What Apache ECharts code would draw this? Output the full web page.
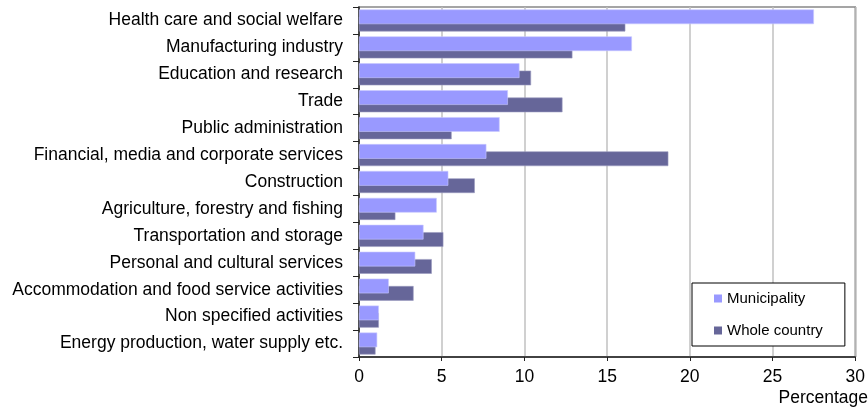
<!DOCTYPE html>
<html>
<head>
<meta charset="utf-8">
<script src="https://cdn.jsdelivr.net/npm/echarts@6/dist/echarts.min.js"></script>
<style>
html,body{margin:0;padding:0;background:#fff;}
#chart{width:868px;height:412px;}
</style>
</head>
<body>
<div id="chart"></div>
<script>
const categories = [
  "Health care and social welfare",
  "Manufacturing industry",
  "Education and research",
  "Trade",
  "Public administration",
  "Financial, media and corporate services",
  "Construction",
  "Agriculture, forestry and fishing",
  "Transportation and storage",
  "Personal and cultural services",
  "Accommodation and food service activities",
  "Non specified activities",
  "Energy production, water supply etc."
];
const municipality = [27.5, 16.5, 9.7, 9.0, 8.5, 7.7, 5.4, 4.7, 3.9, 3.4, 1.8, 1.2, 1.1];
const wholeCountry = [16.1, 12.9, 10.4, 12.3, 5.6, 18.7, 7.0, 2.2, 5.1, 4.4, 3.3, 1.2, 1.0];
const xTicks = [0, 5, 10, 15, 20, 25, 30];
const seriesNames = ["Municipality", "Whole country"];
const axisTitle = "Percentage";

const FONT = "Liberation Sans, Arial, sans-serif";
const chart = echarts.init(document.getElementById('chart'), null, {renderer: 'canvas'});
chart.setOption({
  animation: false,
  backgroundColor: '#fff',
  grid: {
    left: 359, right: 10, top: 7, bottom: 55,
    show: true, borderColor: '#888', borderWidth: 1.5, backgroundColor: 'transparent'
  },
  legend: {
    data: seriesNames,
    orient: 'vertical',
    left: 692, top: 283,
    padding: [8, 22, 8, 22],
    itemGap: 17,
    itemWidth: 8, itemHeight: 8,
    icon: 'rect',
    itemStyle: {borderWidth: 0},
    borderColor: '#000', borderWidth: 1,
    backgroundColor: '#fff',
    textStyle: {fontFamily: FONT, fontSize: 15, color: '#000'}
  },
  xAxis: {
    type: 'value',
    min: xTicks[0], max: xTicks[xTicks.length - 1], interval: 5,
    axisLine: {show: true, lineStyle: {color: '#222', width: 1.5}},
    axisTick: {show: true, length: 4, lineStyle: {color: '#222'}},
    splitLine: {show: true, lineStyle: {color: '#c0c0c0', width: 1.5}},
    axisLabel: {fontFamily: FONT, fontSize: 17.5, color: '#000', margin: 11}
  },
  yAxis: {
    type: 'category',
    data: categories,
    inverse: true,
    axisLine: {show: true, lineStyle: {color: '#222', width: 1.5}},
    axisTick: {show: true, length: 6, alignWithLabel: false, lineStyle: {color: '#222'}},
    axisLabel: {fontFamily: FONT, fontSize: 17.5, color: '#000', margin: 16}
  },
  graphic: [{
    type: 'text',
    right: 0, top: 389,
    style: {text: axisTitle, font: '17.5px ' + FONT, fill: '#000'}
  }],
  series: [
    {
      name: seriesNames[0], type: 'bar', data: municipality,
      barWidth: 14.7, barGap: '-50%', z: 3,
      itemStyle: {color: '#9999ff', borderColor: '#c8c8ff', borderWidth: 0.6}
    },
    {
      name: seriesNames[1], type: 'bar', data: wholeCountry,
      barWidth: 14.7, barGap: '-50%', z: 2,
      itemStyle: {color: '#666699', borderColor: '#9a9ac0', borderWidth: 0.6}
    }
  ]
});
</script>
</body>
</html>
